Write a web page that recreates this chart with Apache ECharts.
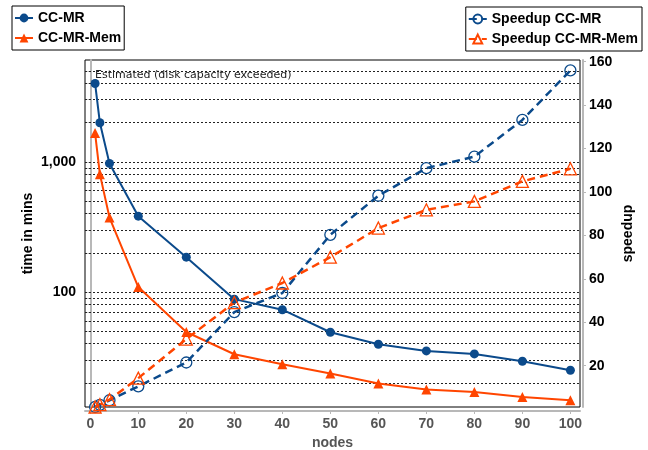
<!DOCTYPE html>
<html><head><meta charset="utf-8">
<script src="https://cdn.jsdelivr.net/npm/echarts@6/dist/echarts.min.js"></script>
<style>html,body{margin:0;padding:0;background:#fff}#c{width:648px;height:450px}</style>
</head><body><div id="c"></div>
<script>
const nodes = [1, 2, 4, 10, 20, 30, 40, 50, 60, 70, 80, 90, 100];
const timeCCMR = [4000, 1995, 972, 382, 185, 88, 73, 49, 39.6, 35.2, 33.4, 29.3, 25.0];
const timeCCMRMem = [1663, 804, 373, 109, 49.2, 33.2, 27.8, 23.6, 19.8, 17.8, 17.0, 15.6, 14.7];
const speedupCCMR = [1, 2, 4.1, 10.5, 21.5, 44.7, 53.5, 80.3, 98.3, 111, 116.3, 133.2, 156];
const speedupCCMRMem = [1, 2.1, 4.4, 14.3, 32.3, 49.1, 58.1, 70, 83.4, 91.8, 95.7, 104.9, 110.7];
const xTicks = [0, 10, 20, 30, 40, 50, 60, 70, 80, 90, 100];
const timeGridValues = [20, 30, 40, 50, 60, 70, 80, 90, 100, 200, 300, 400, 500, 600, 700, 800, 900, 1000, 2000, 3000, 4000, 5000];
const timeLabelValues = [100, 1000];
const speedupTicks = [20, 40, 60, 80, 100, 120, 140, 160];
const annotationText = 'Estimated (disk capacity exceeded)';

const BLUE = '#0b4a8b';
const ORANGE = '#ff4500';
const FONT = '"Liberation Sans", Arial, sans-serif';
const pairs = (ys) => nodes.map((x, i) => [x, ys[i]]);

const chart = echarts.init(document.getElementById('c'), null, {renderer: 'canvas'});
chart.setOption({
  animation: false,
  backgroundColor: '#fff',
  grid: {left: 85, right: 68, top: 60, bottom: 43, show: true, borderColor: '#000', borderWidth: 1,
    backgroundColor: '#fff', containLabel: false, outerBoundsMode: 'none'},
  legend: [
    {
      data: ['CC-MR', 'CC-MR-Mem'], orient: 'vertical', left: 12, top: 6,
      borderColor: '#000', borderWidth: 1, padding: [5, 3, 5, 2], itemGap: 6,
      itemWidth: 18, itemHeight: 11,
      textStyle: {fontFamily: FONT, fontWeight: 'bold', fontSize: 14, color: '#000'}
    },
    {
      data: ['Speedup CC-MR', 'Speedup CC-MR-Mem'], orient: 'vertical', right: 6, top: 7,
      borderColor: '#000', borderWidth: 1, padding: [5, 4, 5, 2], itemGap: 6,
      itemWidth: 18, itemHeight: 11,
      textStyle: {fontFamily: FONT, fontWeight: 'bold', fontSize: 14, color: '#000'}
    }
  ],
  graphic: [{
    type: 'text', left: 95, top: 70, z: 100,
    style: {text: annotationText, font: '11px "DejaVu Sans"', fill: '#222'}
  }],
  xAxis: {
    type: 'value', min: -1.1, max: 102, offset: 4,
    name: 'nodes', nameLocation: 'middle', nameGap: 25, nameMoveOverlap: false,
    nameTextStyle: {fontFamily: FONT, fontWeight: 'bold', fontSize: 14, color: '#555'},
    axisLine: {show: true, lineStyle: {color: '#b8b8b8', width: 2}},
    axisTick: {show: true, customValues: xTicks, length: 3, lineStyle: {color: '#b8b8b8'}},
    axisLabel: {customValues: xTicks, fontFamily: FONT, fontWeight: 'bold', fontSize: 14, color: '#555', margin: 6},
    splitLine: {show: false}
  },
  yAxis: [
    {
      type: 'log', logBase: 10, min: 13.05, max: 6058, offset: 3,
      name: 'time in mins', nameLocation: 'middle', nameGap: 47, nameMoveOverlap: false, nameRotate: 90,
      nameTextStyle: {fontFamily: FONT, fontWeight: 'bold', fontSize: 14, color: '#000'},
      axisLine: {show: true, lineStyle: {color: '#b8b8b8', width: 2}},
      axisTick: {show: true, customValues: timeGridValues, length: 3, lineStyle: {color: '#b8b8b8'}},
      axisLabel: {customValues: timeLabelValues, fontFamily: FONT, fontWeight: 'bold', fontSize: 14, color: '#000', margin: 6,
        formatter: (v) => Number(v).toLocaleString('en-US')},
      splitLine: {show: false}, minorTick: {show: false}
    },
    {
      type: 'value', min: 1, max: 160.8, offset: 3, position: 'right',
      name: 'speedup', nameLocation: 'middle', nameGap: 38, nameMoveOverlap: false, nameRotate: 90,
      nameTextStyle: {fontFamily: FONT, fontWeight: 'bold', fontSize: 14, color: '#000'},
      axisLine: {show: true, lineStyle: {color: '#b8b8b8', width: 2}},
      axisTick: {show: true, customValues: speedupTicks, length: 3, lineStyle: {color: '#b8b8b8'}},
      axisLabel: {customValues: speedupTicks, fontFamily: FONT, fontWeight: 'bold', fontSize: 14, color: '#000', margin: 6},
      splitLine: {show: false}
    }
  ],
  series: [
    {
      name: 'CC-MR', type: 'line', yAxisIndex: 0, data: pairs(timeCCMR),
      symbol: 'circle', symbolSize: 9, color: BLUE,
      lineStyle: {color: BLUE, width: 2}, itemStyle: {color: BLUE},
      markLine: {
        silent: true, symbol: 'none', animation: false, label: {show: false}, z: 1,
        lineStyle: {color: '#222', type: [2, 2], width: 1},
        emphasis: {disabled: true},
        data: timeGridValues.map(v => ({yAxis: v}))
      }
    },
    {
      name: 'CC-MR-Mem', type: 'line', yAxisIndex: 0, data: pairs(timeCCMRMem),
      symbol: 'triangle', symbolSize: 10, color: ORANGE,
      lineStyle: {color: ORANGE, width: 2}, itemStyle: {color: ORANGE}
    },
    {
      name: 'Speedup CC-MR', type: 'line', yAxisIndex: 1, data: pairs(speedupCCMR),
      symbol: 'circle', symbolSize: 11, color: BLUE,
      lineStyle: {color: BLUE, width: 2.5, type: [8, 5]},
      itemStyle: {color: 'rgba(255,255,255,0)', borderColor: BLUE, borderWidth: 1.3}
    },
    {
      name: 'Speedup CC-MR-Mem', type: 'line', yAxisIndex: 1, data: pairs(speedupCCMRMem),
      symbol: 'triangle', symbolSize: 12, color: ORANGE,
      lineStyle: {color: ORANGE, width: 2.5, type: [8, 5]},
      itemStyle: {color: 'rgba(255,255,255,0)', borderColor: ORANGE, borderWidth: 1.3}
    }
  ]
});
</script></body></html>
